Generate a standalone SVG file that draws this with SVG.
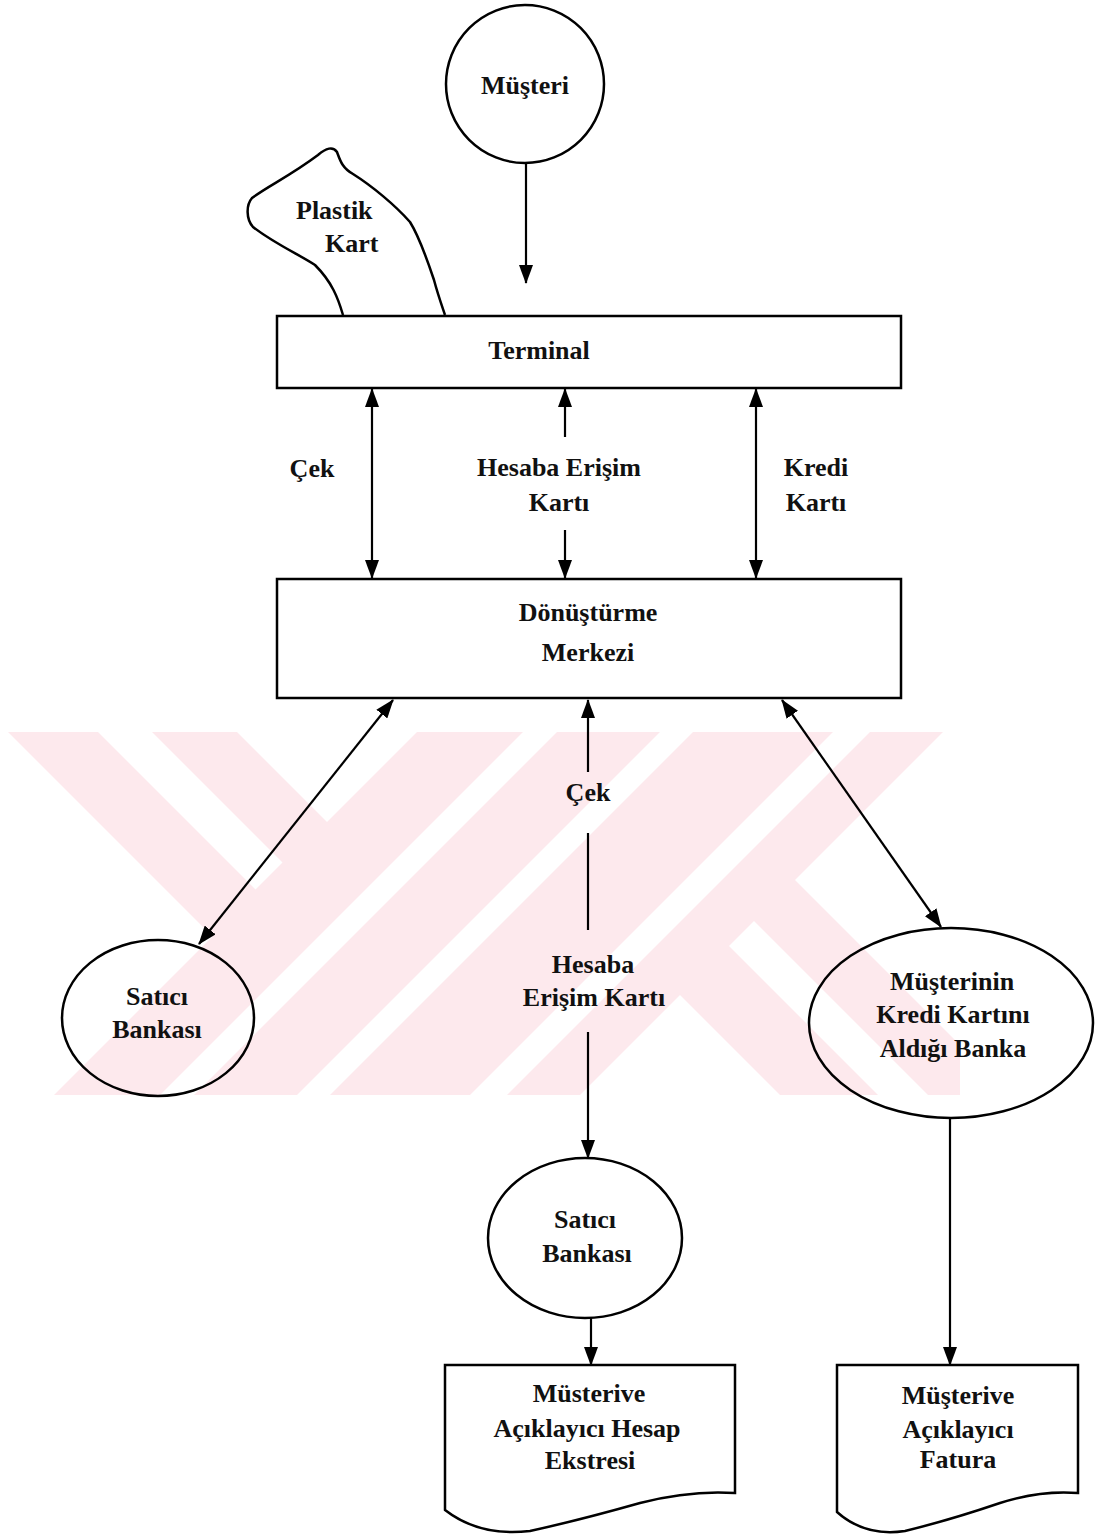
<svg xmlns="http://www.w3.org/2000/svg" width="1098" height="1534" viewBox="0 0 1098 1534">
  <style>
    .shape { fill: none; stroke: #000; stroke-width: 2.5; }
    .node { fill: #fff; fill-opacity: 0; stroke: #000; stroke-width: 2.5; }
    .conn { fill: none; stroke: #000; stroke-width: 2.2; }
    text { font-family: "Liberation Serif", "Times New Roman", serif; font-size: 26px; font-weight: bold; fill: #111; text-anchor: middle; }
    .wm { fill: #fde9ed; }
    .wmw { fill: #fff; }
  </style>
  <defs>
    <marker id="ah" markerUnits="userSpaceOnUse" markerWidth="20" markerHeight="14" refX="18" refY="7" orient="auto-start-reverse">
      <path d="M0,0 L19,7 L0,14 Z" fill="#000"/>
    </marker>
    <clipPath id="wmclip">
      <rect x="0" y="732" width="960" height="363"/>
    </clipPath>
  </defs>
  <rect x="0" y="0" width="1098" height="1534" fill="#fff"/>

  <!-- watermark -->
  <g id="watermark" clip-path="url(#wmclip)">
    <rect class="wm" x="0" y="732" width="960" height="363"/>
    <polygon class="wmw" points="-10,732 8,732 212.5,936.5 54,1095 -10,1095"/>
    <polygon class="wmw" points="98,732 152,732 282.5,862.5 255.5,889.5"/>
    <polygon class="wmw" points="237,732 417,732 327,822"/>
    <polygon class="wmw" points="523,732 557,732 194,1095 160,1095"/>
    <polygon class="wmw" points="660,732 693,732 330,1095 297,1095"/>
    <polygon class="wmw" points="833,732 870,732 507,1095 470,1095"/>
    <polygon class="wmw" points="943,732 1100,732 1100,1095 1010,1095 795,880"/>
    <polygon class="wmw" points="729,946 754,921 928,1095 878,1095"/>
    <polygon class="wmw" points="680,995 780,1095 580,1095"/>
  </g>

  <!-- connectors -->
  <g id="connectors">
    <line class="conn" x1="526" y1="164" x2="526" y2="283" marker-end="url(#ah)"/>
    <line class="conn" x1="372" y1="389" x2="372" y2="578" marker-start="url(#ah)" marker-end="url(#ah)"/>
    <line class="conn" x1="565" y1="437" x2="565" y2="389" marker-end="url(#ah)"/>
    <line class="conn" x1="565" y1="530" x2="565" y2="578" marker-end="url(#ah)"/>
    <line class="conn" x1="756" y1="389" x2="756" y2="578" marker-start="url(#ah)" marker-end="url(#ah)"/>
    <line class="conn" x1="393" y1="700" x2="199" y2="944" marker-start="url(#ah)" marker-end="url(#ah)"/>
    <line class="conn" x1="588" y1="772" x2="588" y2="700" marker-end="url(#ah)"/>
    <line class="conn" x1="588" y1="833" x2="588" y2="930"/>
    <line class="conn" x1="588" y1="1032" x2="588" y2="1158" marker-end="url(#ah)"/>
    <line class="conn" x1="782" y1="700" x2="941" y2="927" marker-start="url(#ah)" marker-end="url(#ah)"/>
    <line class="conn" x1="591" y1="1318" x2="591" y2="1365" marker-end="url(#ah)"/>
    <line class="conn" x1="950" y1="1118" x2="950" y2="1365" marker-end="url(#ah)"/>
  </g>

  <!-- labels on connectors -->
  <g id="connector-labels">
    <text x="312" y="477">Çek</text>
    <text x="559" y="476">Hesaba Erişim</text>
    <text x="559" y="511">Kartı</text>
    <text x="816" y="476">Kredi</text>
    <text x="816" y="511">Kartı</text>
    <text x="588" y="801">Çek</text>
    <text x="593" y="973">Hesaba</text>
    <text x="594" y="1006">Erişim Kartı</text>
  </g>

  <g id="musteri">
    <circle class="node" cx="525" cy="84" r="79"/>
    <text x="525" y="94">Müşteri</text>
  </g>

  <g id="plastik-kart">
    <path class="shape" d="M343,315 C338,298 332,282 315,265 C300,255 275,244 253,227 C246,219 246,205 252,198 C268,186 290,176 318,155 C326,148 333,146 337,152 C340,160 342,168 353,174 C372,186 395,205 410,222 C420,238 428,262 434,280 C438,295 442,306 445,315"/>
    <text x="296" y="219" style="text-anchor:start">Plastik</text>
    <text x="325" y="252" style="text-anchor:start">Kart</text>
  </g>

  <g id="terminal">
    <rect class="node" x="277" y="316" width="624" height="72"/>
    <text x="539" y="359">Terminal</text>
  </g>

  <g id="donusturme">
    <rect class="node" x="277" y="579" width="624" height="119"/>
    <text x="588" y="621">Dönüştürme</text>
    <text x="588" y="661">Merkezi</text>
  </g>

  <g id="satici-bankasi-1">
    <ellipse class="node" cx="158" cy="1018" rx="96" ry="78"/>
    <text x="157" y="1005">Satıcı</text>
    <text x="157" y="1038">Bankası</text>
  </g>

  <g id="musterinin-bankasi">
    <ellipse class="node" cx="951" cy="1023" rx="142" ry="95"/>
    <text x="952" y="990">Müşterinin</text>
    <text x="953" y="1023">Kredi Kartını</text>
    <text x="953" y="1057">Aldığı Banka</text>
  </g>

  <g id="satici-bankasi-2">
    <ellipse class="node" cx="585" cy="1238" rx="97" ry="80"/>
    <text x="585" y="1228">Satıcı</text>
    <text x="587" y="1262">Bankası</text>
  </g>

  <g id="hesap-ekstresi">
    <path class="shape" d="M445,1365 H735 V1493 Q690,1490 640,1503 Q580,1520 530,1531 Q480,1537 445,1510 Z"/>
    <text x="589" y="1402">Müsterive</text>
    <text x="587" y="1437">Açıklayıcı Hesap</text>
    <text x="590" y="1469">Ekstresi</text>
  </g>

  <g id="fatura">
    <path class="shape" d="M837,1365 H1078 V1493 Q1040,1490 1000,1503 Q950,1520 905,1531 Q865,1537 837,1512 Z"/>
    <text x="958" y="1404">Müşterive</text>
    <text x="958" y="1438">Açıklayıcı</text>
    <text x="958" y="1468">Fatura</text>
  </g>
</svg>
